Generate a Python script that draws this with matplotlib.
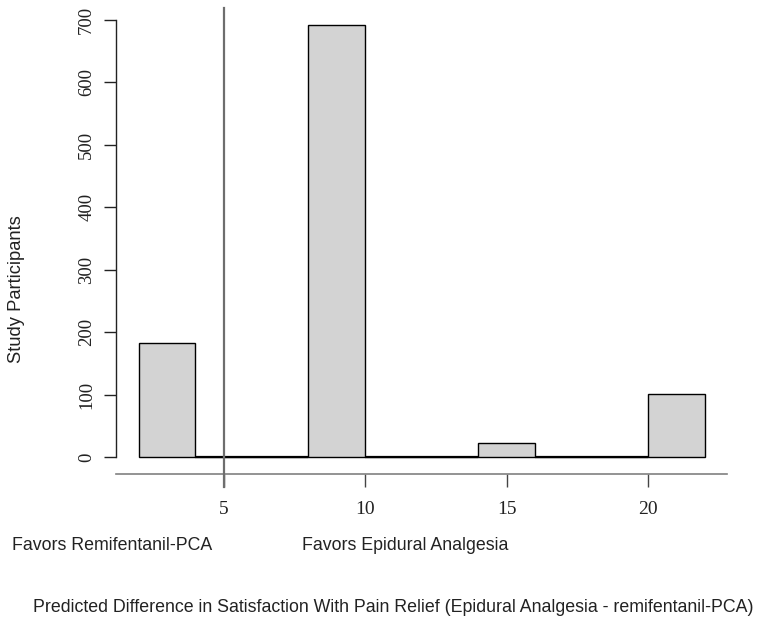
import matplotlib
matplotlib.use("Agg")
import matplotlib.pyplot as plt
import numpy as np

bin_edges = [2, 4, 6, 8, 10, 12, 14, 16, 18, 20, 22]
counts = [182, 0, 0, 692, 0, 0, 22, 0, 0, 101]
xticks = [5, 10, 15, 20]
yticks = [0, 100, 200, 300, 400, 500, 600, 700]
vline_x = 5

W, H = 763, 620
fig = plt.figure(figsize=(W / 100, H / 100), dpi=100)
L, R, T, B = 116, 727.3, 7.7, 474.3
ax = fig.add_axes([L / W, 1 - B / H, (R - L) / W, (B - T) / H])

lefts = np.array(bin_edges[:-1])
widths = np.diff(bin_edges)
ax.bar(lefts, counts, width=widths, align='edge', color='#d3d3d3',
       edgecolor='black', linewidth=1.0, zorder=2)
# zero-height bins drawn as a thicker line (R overdraws top+bottom edges)
for l, w, c in zip(lefts, widths, counts):
    if c == 0:
        ax.plot([l, l + w], [0, 0], color='black', linewidth=1.6, zorder=3,
                solid_capstyle='butt')

ax.set_xlim(1.2, 22.8)
ax.set_ylim(-0.04 * 692, 692 * 1.04)

ax.axvline(vline_x, ymin=-13 / (B - T), ymax=1, color='#6e6e6e',
           linewidth=1.6, clip_on=False, zorder=4)

for s in ['top', 'right']:
    ax.spines[s].set_visible(False)
ax.spines['left'].set_bounds(0, 700)
ax.spines['left'].set_color('#222222')
ax.spines['left'].set_linewidth(1.0)
ax.spines['bottom'].set_color('#808080')
ax.spines['bottom'].set_linewidth(1.2)

serif = ['Liberation Serif', 'DejaVu Serif']
sans = ['Liberation Sans', 'DejaVu Sans']

ax.set_xticks(xticks)
ax.set_xticklabels([str(v) for v in xticks], fontsize=14, family=serif,
                   color='#222222')
ax.tick_params(axis='x', direction='out', length=9.5, width=1.0,
               color='#444444', pad=10)
ax.set_yticks(yticks)
ax.set_yticklabels([str(v) for v in yticks], fontsize=13.5, family=serif,
                   rotation=90, va='center', color='#222222')
ax.tick_params(axis='y', direction='out', length=9, width=1.0,
               color='#222222', pad=6)

def px(x, y):
    return x / W, 1 - y / H

fig.text(*px(17, 289), 'Study Participants', rotation=90, ha='center',
         va='center', fontsize=13.2, family=sans, color='#222222')
fig.text(*px(12, 545), 'Favors Remifentanil-PCA', ha='left', va='center',
         fontsize=12.8, family=sans, color='#222222')
fig.text(*px(302, 545), 'Favors Epidural Analgesia', ha='left',
         va='center', fontsize=12.8, family=sans, color='#222222')
fig.text(*px(33, 608),
         'Predicted Difference in Satisfaction With Pain Relief (Epidural Analgesia - remifentanil-PCA)',
         ha='left', va='center', fontsize=12.75, family=sans, color='#222222')

fig.savefig('out.png', dpi=100)
